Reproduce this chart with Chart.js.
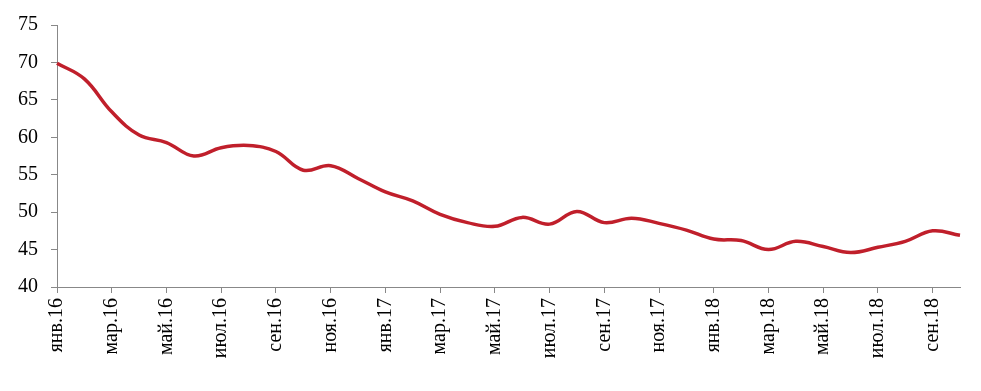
<!DOCTYPE html>
<html>
<head>
<meta charset="utf-8">
<script src="https://cdn.jsdelivr.net/npm/chart.js@4"></script>
<style>
  html, body { margin: 0; padding: 0; background: #fff; }
  #wrap { width: 981px; height: 391px; }
</style>
</head>
<body>
<div id="wrap"><canvas id="chart"></canvas></div>
<script>
const months = ['янв', 'фев', 'мар', 'апр', 'май', 'июн', 'июл', 'авг', 'сен', 'окт', 'ноя', 'дек'];
const years = ['16', '17', '18'];
const labels = [];
years.forEach(y => months.forEach(m => labels.push(m + '.' + y)));
labels.length = 34; // янв.16 .. окт.18

const values = [
  69.9, 67.8, 63.4, 60.3, 59.3, 57.5, 58.6, 58.9, 58.1, 55.6, 56.2, 54.5,
  52.7, 51.5, 49.7, 48.6, 48.1, 49.3, 48.4, 50.1, 48.6, 49.2, 48.5, 47.6,
  46.4, 46.2, 45.0, 46.1, 45.4, 44.6, 45.3, 46.1, 47.5, 46.9
];

const yMin = 40, yMax = 75, yStep = 5;

const ctx = document.getElementById('chart').getContext('2d');
const chart = new Chart(ctx, {
  type: 'line',
  data: {
    labels: labels,
    datasets: [{
      data: values,
      borderColor: '#c01f2b',
      borderWidth: 3.5,
      pointRadius: 0,
      tension: 0.4,
      fill: false
    }]
  },
  options: {
    responsive: true,
    maintainAspectRatio: false,
    animation: false,
    layout: { padding: { top: 25, right: 21, left: 0, bottom: 0 } },
    plugins: { legend: { display: false }, tooltip: { enabled: false } },
    scales: {
      x: {
        offset: false,
        afterFit: s => { s.height = 104; },
        grid: { drawOnChartArea: false, drawTicks: true, tickLength: 6, color: '#888' },
        border: { color: '#888', width: 1 },
        ticks: {
          autoSkip: false,
          maxRotation: 90,
          minRotation: 90,
          color: '#000',
          padding: 5,
          font: { family: 'Liberation Serif', size: 20 },
          callback: function(val, i) { return i % 2 === 0 ? this.getLabelForValue(val) : null; }
        }
      },
      y: {
        min: yMin,
        max: yMax,
        afterFit: s => { s.width = 57; },
        grid: { drawOnChartArea: false, drawTicks: true, tickLength: 6, color: '#888' },
        border: { color: '#888', width: 1 },
        ticks: {
          stepSize: yStep,
          color: '#000',
          padding: 13,
          font: { family: 'Liberation Serif', size: 20 }
        }
      }
    }
  }
});
</script>
</body>
</html>
